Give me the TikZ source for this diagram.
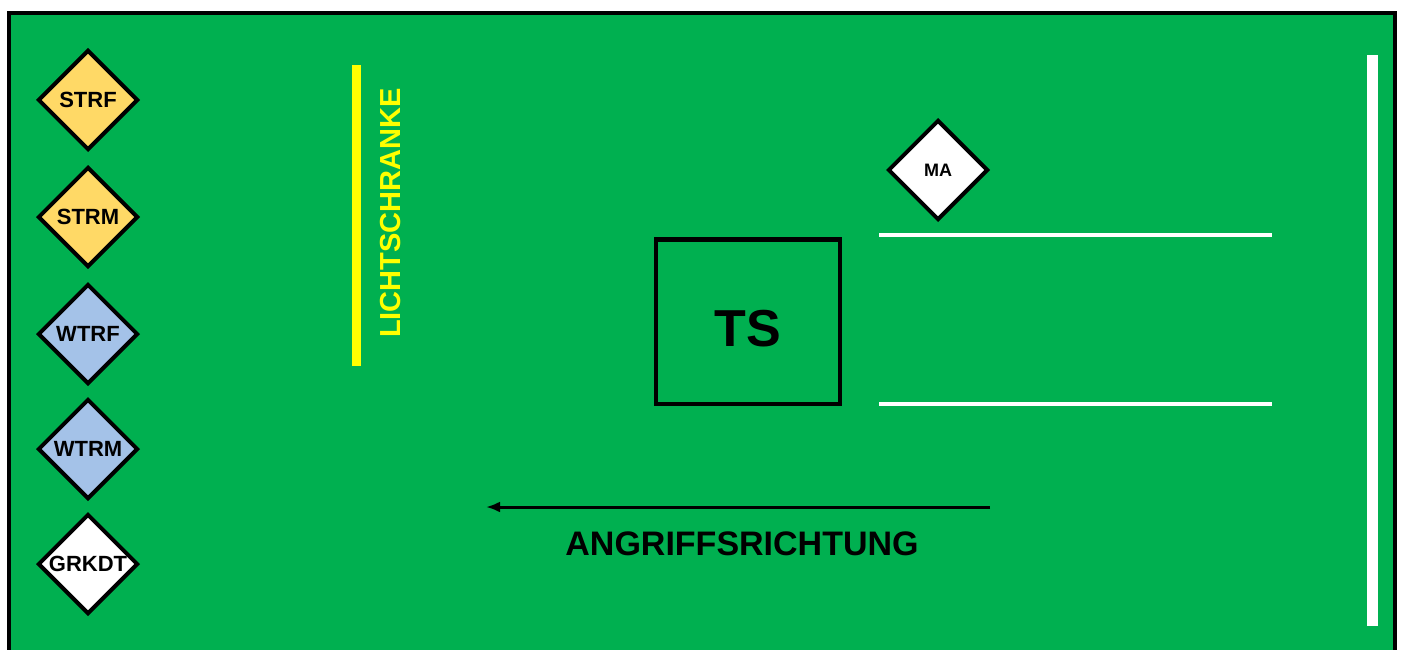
\documentclass[tikz,border=0pt]{standalone}
\usepackage{fontspec}
\setmainfont{Liberation Sans}
\usetikzlibrary{shapes.geometric,arrows.meta}
\definecolor{rasen}{HTML}{00B050}
\definecolor{gelbpos}{HTML}{FFD966}
\definecolor{blaupos}{HTML}{A4C2E8}
\definecolor{schranke}{HTML}{FFFF00}

\begin{document}
\begin{tikzpicture}[x=1pt,y=-1pt,
		posten/.style={diamond, draw=black, line width=4pt, minimum width=100pt,
			minimum height=100pt, inner sep=0pt, font=\bfseries\fontsize{22}{22}\selectfont},
		feldlinie/.style={white, line width=4pt}]
	\useasboundingbox (0,0) rectangle (1402,650);
	\clip (0,0) rectangle (1402,650);
	\fill[white] (0,0) rectangle (1402,650);
	% Spielfeld
	\draw[line width=4pt, fill=rasen] (9,13) rectangle (1395,700);
	%
	\node [posten, fill=gelbpos] (strf) at (88,100) {STRF};
	\node [posten, fill=gelbpos] (strm) at (88,217) {STRM};
	\node [posten, fill=blaupos] (wtrf) at (88,334) {WTRF};
	\node [posten, fill=blaupos] (wtrm) at (88,449) {WTRM};
	\node [posten, fill=white] (grkdt) at (88,564) {GRKDT};
	%
	\fill[schranke] (352,65) rectangle (361,366);
	\node [rotate=90, text=schranke, font=\bfseries\fontsize{29}{29}\selectfont] (licht) at (391,213) {LICHTSCHRANKE};
	%
	\node [draw=black, line width=4.5pt, minimum width=184pt, minimum height=164.5pt] (ts) at (748,321.5) {};
	\node [font=\bfseries\fontsize{52}{52}\selectfont] (tstext) at (748,329) {TS};
	\node [posten, fill=white, font=\bfseries\fontsize{18}{18}\selectfont] (ma) at (938,170) {MA};
	%
	\draw[feldlinie] (879,235) -- (1272,235);
	\draw[feldlinie] (879,404) -- (1272,404);
	\fill[white] (1367,55) rectangle (1378,626);
	%
	\coordinate (start) at (990,507);
	\coordinate (ziel) at (486,507);
	\draw[line width=3pt, -{Latex[length=14pt, width=11pt]}] (start) -- (ziel);
	\node [font=\bfseries\fontsize{34}{34}\selectfont] (richtung) at (742,544) {ANGRIFFSRICHTUNG};
\end{tikzpicture}
\end{document}
